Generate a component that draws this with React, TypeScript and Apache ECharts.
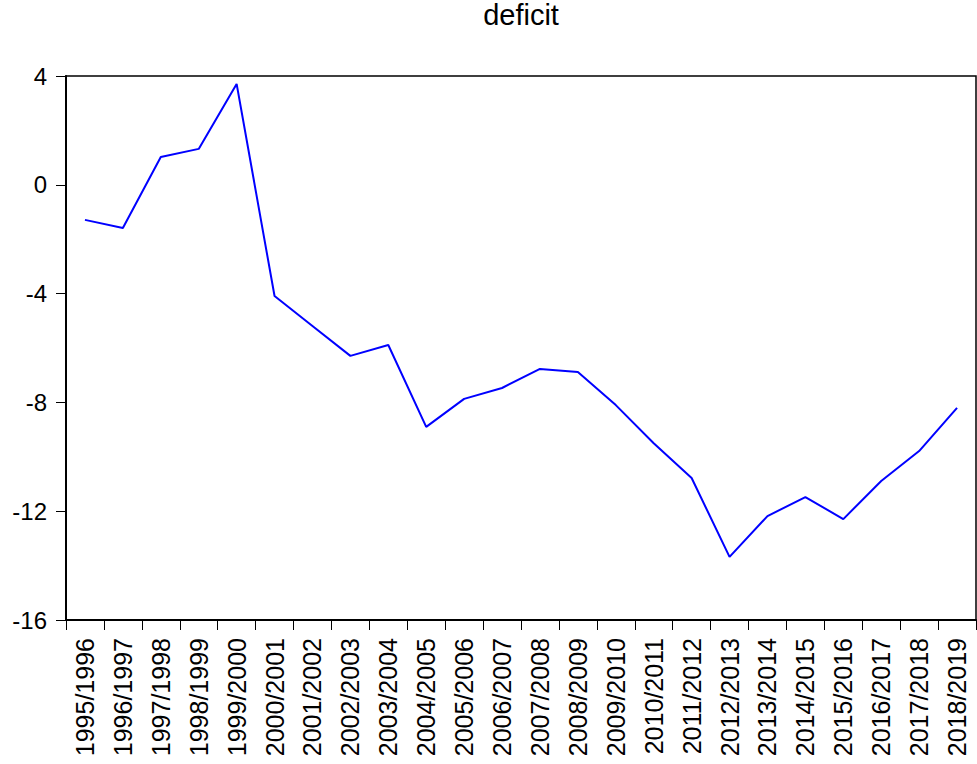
import React, { useEffect, useRef } from "react";
import * as echarts from "echarts";

const categories = [
  "1995/1996", "1996/1997", "1997/1998", "1998/1999", "1999/2000", "2000/2001",
  "2001/2002", "2002/2003", "2003/2004", "2004/2005", "2005/2006", "2006/2007",
  "2007/2008", "2008/2009", "2009/2010", "2010/2011", "2011/2012", "2012/2013",
  "2013/2014", "2014/2015", "2015/2016", "2016/2017", "2017/2018", "2018/2019",
];

const deficit = [
  -1.29, -1.59, 1.02, 1.32, 3.71, -4.09, -5.19, -6.29, -5.89, -8.9, -7.87, -7.47,
  -6.77, -6.88, -8.1, -9.5, -10.78, -13.68, -12.18, -11.48, -12.29, -10.89, -9.79, -8.2,
];

const yMin = -16;
const yMax = 4;
const yInterval = 4;

export default function App() {
  const ref = useRef<HTMLDivElement>(null);
  useEffect(() => {
    if (!ref.current) return;
    const chart = echarts.init(ref.current, undefined, { renderer: "svg" });
    const font = "Liberation Sans, Arial, sans-serif";
    chart.setOption({
      animation: false,
      backgroundColor: "#ffffff",
      title: {
        text: "deficit",
        left: 521,
        textAlign: "center",
        top: 0,
        padding: 0,
        textStyle: { fontFamily: font, fontSize: 29, fontWeight: "normal", color: "#000" },
      },
      grid: {
        left: 66,
        right: 1,
        top: 76,
        bottom: 144,
        show: true,
        borderColor: "#000",
        borderWidth: 1.5,
        containLabel: false,
      },
      xAxis: {
        type: "category",
        data: categories,
        boundaryGap: true,
        axisLine: { onZero: false, lineStyle: { color: "#000", width: 2 } },
        axisTick: { show: true, inside: false, length: 10, alignWithLabel: false, lineStyle: { color: "#000", width: 1 } },
        axisLabel: {
          rotate: 90,
          margin: 18,
          interval: 0,
          color: "#000",
          fontFamily: font,
          fontSize: 25,
        },
        splitLine: { show: false },
      },
      yAxis: {
        type: "value",
        min: yMin,
        max: yMax,
        interval: yInterval,
        axisLine: { show: true, onZero: false, lineStyle: { color: "#000", width: 2 } },
        axisTick: { show: true, inside: false, length: 10, lineStyle: { color: "#000", width: 1 } },
        axisLabel: {
          margin: 19,
          color: "#000",
          fontFamily: font,
          fontSize: 24,
        },
        splitLine: { show: false },
      },
      series: [
        {
          type: "line",
          data: deficit,
          showSymbol: false,
          symbol: "none",
          lineStyle: { color: "#0000ff", width: 2 },
          itemStyle: { color: "#0000ff" },
        },
      ],
    });
    return () => chart.dispose();
  }, []);
  return (
    <div
      ref={ref}
      style={{ position: "fixed", left: 0, top: 0, width: 977, height: 764, background: "#fff" }}
    />
  );
}
